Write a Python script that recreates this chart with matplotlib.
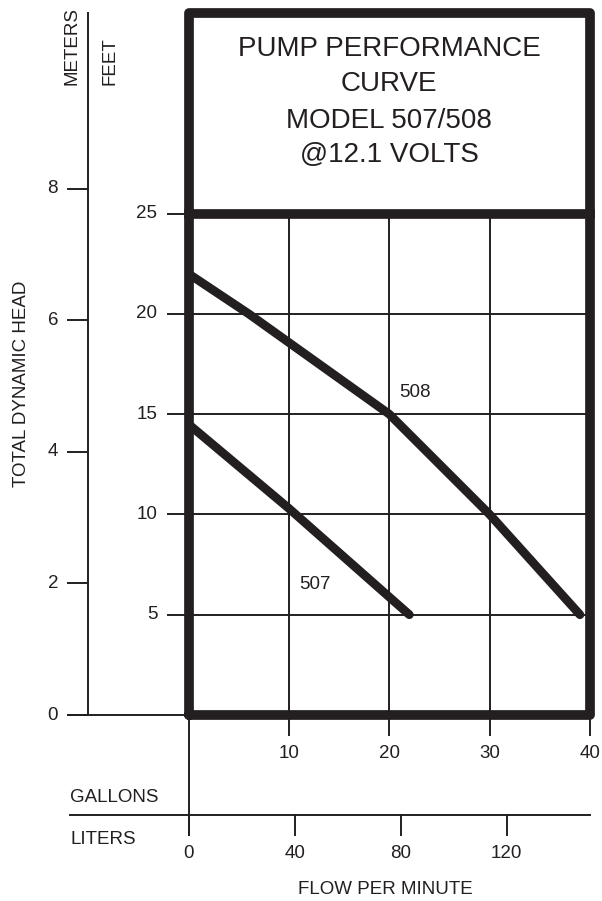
import matplotlib
matplotlib.use("Agg")
import matplotlib.pyplot as plt
import numpy as np

plt.rcParams['font.family'] = ['Liberation Sans', 'DejaVu Sans']

INK = '#231f20'

# ---- data ----
gal_507 = [0, 10, 22]
ft_507 = [14.5, 10.3, 5]
gal_508 = [0, 6, 20, 30, 39]
ft_508 = [22, 20, 15, 10, 5]

feet_ticks = [5, 10, 15, 20, 25]
meter_ticks = [0, 2, 4, 6, 8]
gallon_ticks = [10, 20, 30, 40]
liter_ticks = [0, 40, 80, 120]

title_lines = ["PUMP PERFORMANCE", "CURVE", "MODEL 507/508", "@12.1 VOLTS"]

FT_PER_M = 3.28084
L_PER_GAL = 3.78541

fig = plt.figure(figsize=(6.02, 9.01), dpi=100)
W, H = 602, 901
# box in pixels: x 188.5..590, y 13..715
ax = fig.add_axes([188.5 / W, (H - 715) / H, (590 - 188.5) / W, (715 - 13) / H])
ax.set_xlim(0, 40)
ax.set_ylim(0, 35)
ax.axis('off')

thin = 1.4
lab_fs = 13.5


def label(x, y, s, **kw):
    kw.setdefault('ha', 'center')
    kw.setdefault('va', 'center')
    ax.text(x, y, s, fontsize=lab_fs, color=INK, **kw)


##grid inside the box
for g in gallon_ticks[:-1]:
    ax.plot([g, g], [0, 25], color=INK, lw=thin, zorder=1)
for f in feet_ticks[:-1]:
    ax.plot([0, 40], [f, f], color=INK, lw=thin, zorder=1)

##feet ticks + labels (left of box)
for f in feet_ticks:
    ax.plot([-2, 0], [f, f], color=INK, lw=thin, clip_on=False)
    label(-3.1, f, str(f), ha='right')

##meters axis
ax.plot([-10, -10], [0, 35], color=INK, lw=thin, clip_on=False)
ax.plot([-12, 0], [0, 0], color=INK, lw=thin, clip_on=False)
for m in meter_ticks:
    y = m * FT_PER_M
    ax.plot([-12, -10], [y, y], color=INK, lw=thin, clip_on=False)
    label(-13.0, y, str(m), ha='right')

label(-11.6, 31.4, "METERS", rotation=90, rotation_mode='anchor', ha='left')
label(-7.8, 31.4, "FEET", rotation=90, rotation_mode='anchor', ha='left')
label(-16.6, 16.5, "TOTAL DYNAMIC HEAD", rotation=90)

##gallons ticks below the box
for g in gallon_ticks:
    ax.plot([g, g], [0, -1], color=INK, lw=thin, clip_on=False)
    label(g, -1.9, str(g))

##liters axis
ax.plot([0, 0], [0, -6], color=INK, lw=thin, clip_on=False)
ax.plot([-11.8, 40], [-5, -5], color=INK, lw=thin, clip_on=False)
for lt in liter_ticks:
    g = lt / L_PER_GAL
    ax.plot([g, g], [-5, -6], color=INK, lw=thin, clip_on=False)
    label(g, -6.9, str(lt))

label(-11.8, -4.1, "GALLONS", ha='left')
label(-11.8, -6.2, "LITERS", ha='left')
label(19.65, -8.7, "FLOW PER MINUTE")

##pump curves
ax.plot(gal_508, ft_508, color=INK, lw=6.3, solid_capstyle='round', solid_joinstyle='round', zorder=3)
ax.plot(gal_507, ft_507, color=INK, lw=6.3, solid_capstyle='round', solid_joinstyle='round', zorder=3)
label(22.6, 16.1, "508")
label(12.6, 6.5, "507")

##thick frame + title divider
ax.plot([0, 0, 40, 40, 0], [0, 35, 35, 0, 0], color=INK, lw=7, solid_joinstyle='round',
        solid_capstyle='round', clip_on=False, zorder=4)
ax.plot([0, 40], [25, 25], color=INK, lw=7, clip_on=False, zorder=4)

##title
title_y = [32.88, 31.1, 29.25, 27.55]
for s, y in zip(title_lines, title_y):
    ax.text(20, y, s, ha='center', va='baseline', fontsize=20, color=INK)

fig.savefig("out.png", dpi=100)
